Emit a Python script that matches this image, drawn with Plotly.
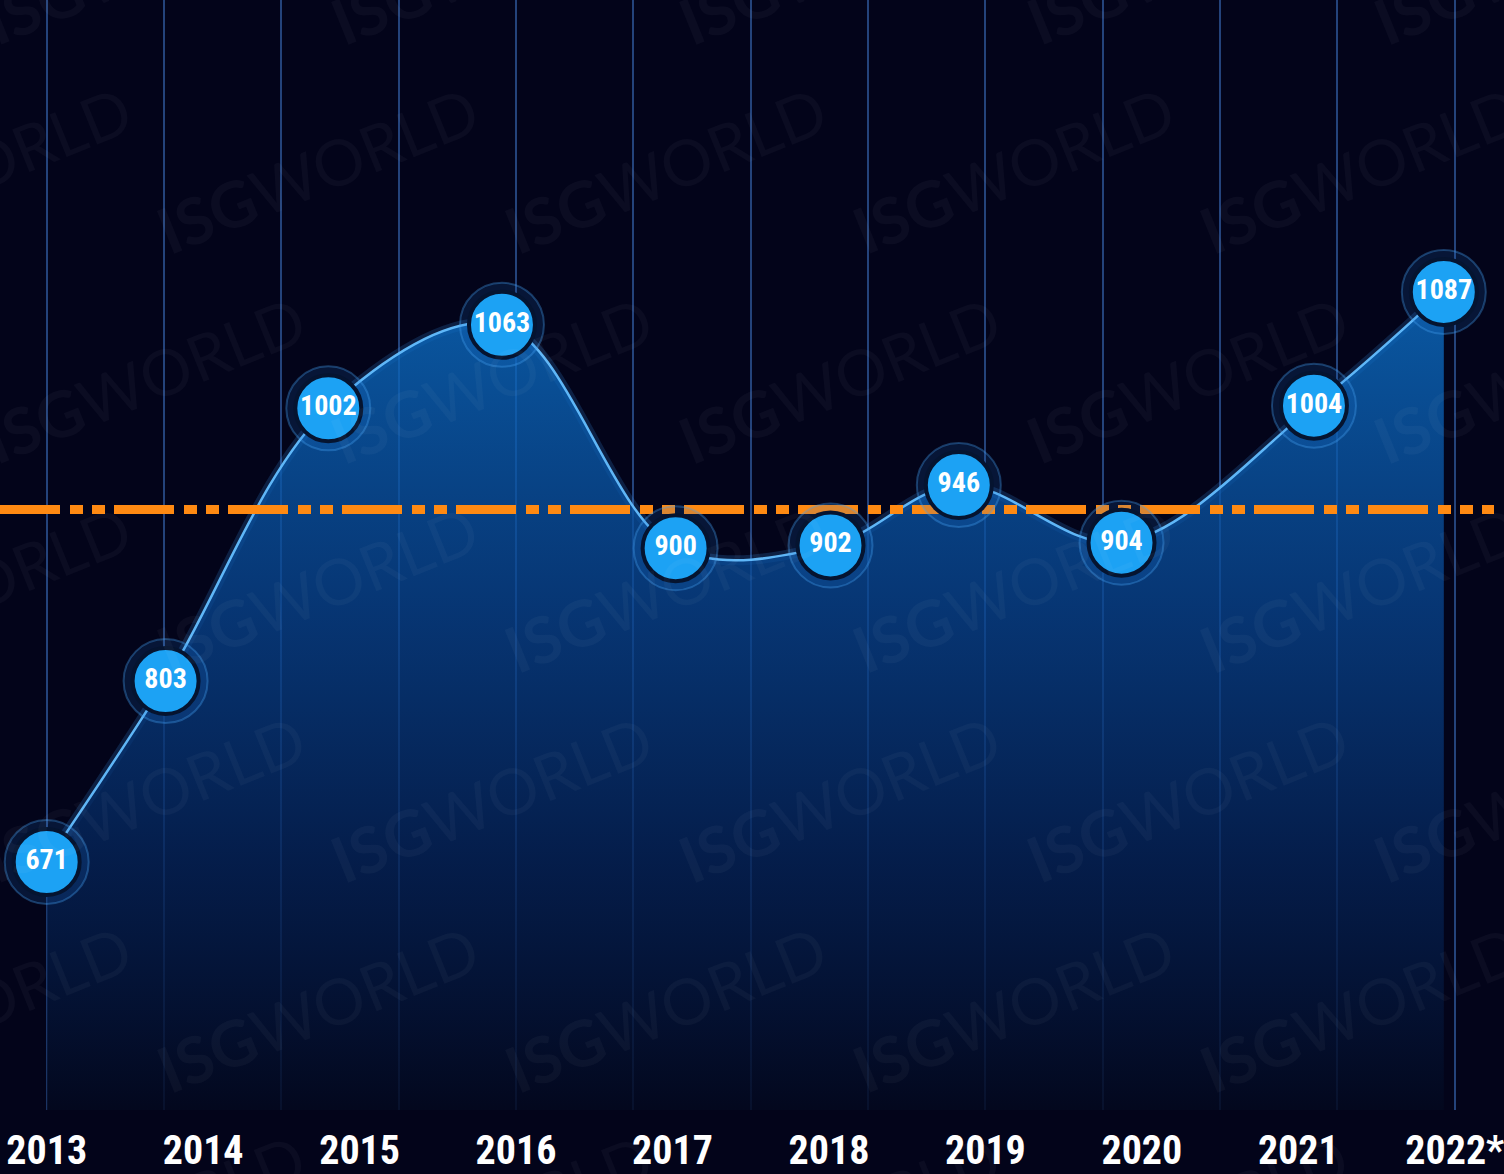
import plotly.graph_objects as go

# ---- data ----
years = [2013, 2014, 2015, 2016, 2017, 2018, 2019, 2020, 2021, 2022]
year_labels = ["2013", "2014", "2015", "2016", "2017", "2018", "2019", "2020", "2021", "2022*"]
point_x = [2013.0, 2013.76, 2014.80, 2015.91, 2017.02, 2018.01, 2018.83, 2019.87, 2021.10, 2021.93]
values = [671, 803, 1002, 1063, 900, 902, 946, 904, 1004, 1087]
value_labels = [str(v) for v in values]
mean_val = sum(values) / len(values)

W, H = 1504, 1174
MB = 62
PLOT_H = H - MB
X_RANGE = [2012.7016, 2022.2508]
Y_RANGE = [490, 1300]

BG = "#03041a"
NUM_FONT = "Liberation Sans Narrow, Roboto Condensed, DejaVu Sans Condensed, Roboto, sans-serif"

fig = go.Figure()

# glow under line
fig.add_trace(go.Scatter(
    x=point_x, y=values, mode="lines",
    line=dict(shape="spline", smoothing=1.0, color="rgba(60,160,255,0.18)", width=10),
    hoverinfo="skip", showlegend=False,
))

# gradient area + line
fig.add_trace(go.Scatter(
    x=point_x, y=values, mode="lines",
    line=dict(shape="spline", smoothing=1.0, color="rgba(100,190,255,0.95)", width=2.5),
    fill="tozeroy",
    fillgradient=dict(
        type="vertical",
        start=490, stop=1100,
        colorscale=[
            [0.0, "rgba(3,8,30,0.85)"],
            [0.3, "rgba(5,36,88,0.78)"],
            [0.6, "rgba(8,70,145,0.75)"],
            [1.0, "rgba(12,112,200,0.8)"],
        ],
    ),
    hoverinfo="skip", showlegend=False,
))

# mean (dash-dot) line
fig.add_trace(go.Scatter(
    x=X_RANGE, y=[mean_val, mean_val], mode="lines",
    line=dict(color="#ff8a12", width=9, dash="60px,10px,13px,9px,13px,9px"),
    hoverinfo="skip", showlegend=False,
))

# bubble glow rings
fig.add_trace(go.Scatter(
    x=point_x, y=values, mode="markers",
    marker=dict(size=84, color="rgba(30,120,210,0.16)",
                line=dict(color="rgba(70,160,240,0.35)", width=2)),
    hoverinfo="skip", showlegend=False,
))

# bubbles with labels
fig.add_trace(go.Scatter(
    x=point_x, y=values, mode="markers+text",
    marker=dict(size=66, color="#1ca2f4", line=dict(color="#051430", width=4)),
    text=value_labels, textposition="middle center",
    textfont=dict(family=NUM_FONT, size=28, color="white", weight="bold"),
    hoverinfo="skip", showlegend=False,
))

# faint tiled watermark (as in the reference, tiles run off the edges)
annotations = []
for r in range(7):
    py = -40 + 210 * r
    base = 145 if r % 2 == 0 else 320
    for k in range(-1, 5):
        px = base + 350 * k
        annotations.append(dict(
            xref="paper", yref="paper",
            x=px / W, y=(PLOT_H - py) / PLOT_H,
            xanchor="center", yanchor="middle",
            text="<b>ISG</b>WORLD", showarrow=False, textangle=-22,
            font=dict(family="Lato, sans-serif", size=64, color="rgba(255,255,255,0.035)"),
        ))

fig.update_layout(
    width=W, height=H,
    margin=dict(l=0, r=0, t=0, b=MB),
    paper_bgcolor=BG, plot_bgcolor=BG,
    showlegend=False,
    annotations=annotations,
    xaxis=dict(
        range=X_RANGE, showgrid=False, zeroline=False, showline=False,
        tickvals=years, ticktext=year_labels, ticks="",
        tickfont=dict(family=NUM_FONT, size=40, color="white", weight="bold"),
        ticklabelstandoff=13, ticklabeloverflow="allow",
        minor=dict(dtick=0.75, tick0=2013, showgrid=True,
                   gridcolor="rgba(70,130,220,0.5)", gridwidth=1.5, ticks=""),
    ),
    yaxis=dict(range=Y_RANGE, showgrid=False, zeroline=False, showline=False,
               showticklabels=False),
)

fig.write_html(
    "out.html",
    config={"displayModeBar": False},
    post_script="document.body.style.margin='0';document.body.style.background='#03041a';",
)
